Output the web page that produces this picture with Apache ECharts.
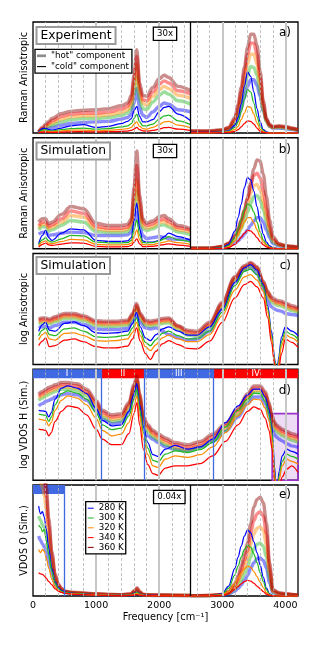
<!DOCTYPE html>
<html><head><meta charset="utf-8">
<script src="https://cdn.jsdelivr.net/npm/echarts@6/dist/echarts.min.js"></script>
<style>html,body{margin:0;padding:0;background:#fff;}#chart{width:320px;height:650px;}</style>
</head><body><div id="chart"></div>
<script>
// ================= DATA =================
const TEMPS = ['280 K', '300 K', '320 K', '340 K', '360 K'];
const X_TICKS = [0, 1000, 2000, 3000, 4000];
const GRID_DASHED = [200, 400, 600, 800, 1200, 1400, 1600, 1800, 2200, 2400, 2600, 2800, 3200, 3400, 3600, 3800];
const GRID_SOLID = [1000, 2000, 3000, 4000];
const REGION_EDGES = [0, 1080, 1765, 2855, 4200];
const REGION_NAMES = ['I', 'II', 'III', 'IV'];
const E_REGION = [0, 500];
const PURPLE_BOX_X = [3790, 4200];
const PURPLE_BOX_Y = [0, 60];

// frequency grids (cm^-1)
const F_LEFT = [90, 150, 200, 250, 300, 450, 600, 800, 1000, 1200, 1400, 1500, 1560, 1600, 1645, 1690, 1740, 1800, 1900, 2000, 2080, 2150, 2300, 2500];
const F_RIGHT = [2500, 2800, 3000, 3100, 3200, 3250, 3300, 3350, 3400, 3450, 3500, 3550, 3600, 3650, 3700, 3750, 3800, 3900, 4000, 4100, 4200];
const F_E_LEFT = [90, 120, 150, 180, 210, 250, 300, 350, 400, 450, 500, 600, 800, 1000, 1200, 1400, 1550, 1610, 1650, 1690, 1750, 1900, 2200, 2500];
const F_C = [90, 150, 200, 260, 350, 500, 650, 800, 1000, 1150, 1300, 1500, 1580, 1640, 1700, 1780, 1860, 1950, 2050, 2150, 2300, 2450, 2600, 2800, 3000, 3200, 3350, 3450, 3550, 3650, 3720, 3780, 3830, 3860, 3890, 3940, 4000, 4100, 4200];
const F_D = [90, 150, 200, 250, 290, 350, 450, 550, 700, 850, 1000, 1100, 1250, 1400, 1520, 1600, 1645, 1690, 1750, 1820, 1900, 1980, 2100, 2250, 2450, 2650, 2850, 3050, 3250, 3400, 3500, 3600, 3680, 3740, 3790, 3830, 3860, 3900, 3950, 4020, 4100, 4200];

// ---- panel a) Experiment, left part (x30) ----
const aH280 = [0.5, 2.5, 3.5, 4.2, 5, 7, 8.5, 9.5, 10, 10.5, 12.5, 14, 17, 27, 40, 23, 16, 14, 19, 24, 27, 26, 21, 19];
const aH300 = [0.6, 3, 4.5, 5.8, 7, 10, 12, 13, 13, 14, 16, 18, 22, 34, 51, 30, 22, 21, 28, 34, 37, 35, 29, 26];
const aH320 = [0.8, 3.5, 5.5, 7.2, 9, 12.5, 14.5, 15.5, 15.5, 16.5, 18.5, 21, 26, 41, 62, 36, 27, 25, 33, 39, 42, 40, 34, 31];
const aH340 = [1, 4, 6.5, 8.8, 11, 15, 17, 18, 18, 19, 21.5, 24, 30, 47, 69, 41, 30, 29, 37, 44, 47, 45, 38, 35];
const aH360 = [1, 5, 8, 10.5, 13, 17.5, 19.5, 20.5, 21, 22, 24.5, 27, 34, 52, 75, 45, 34, 33, 41, 49, 52, 50, 42, 38];
const aC280 = [0.5, 4, 4.5, 3, 2.5, 4.5, 6.5, 7.5, 5, 6, 8.5, 10.5, 13, 20, 24, 15, 10, 10, 12, 19, 23, 24, 17, 11];
const aC300 = [0.3, 2.5, 3, 2, 1.8, 3, 4, 4.5, 3.5, 4, 5.5, 6.5, 8.5, 13, 17, 10, 6.5, 6.5, 8, 12.5, 15.5, 16, 11, 7.5];
const aC320 = [0.2, 1.5, 1.8, 1.2, 1, 1.8, 2.5, 2.7, 2, 2.5, 3.2, 4, 5, 8, 10, 6, 4, 3.5, 5, 7.5, 10, 10.5, 7, 4.5];
const aC340 = [0.1, 0.7, 0.8, 0.6, 0.5, 0.8, 1.1, 1.2, 1, 1.2, 1.5, 1.8, 2.3, 3.5, 5, 3, 2, 1.7, 2.3, 3.5, 4.8, 5, 3.5, 2.2];
// ---- panel a) right part ----
const aRH280 = [1, 1, 1.5, 3, 7, 13, 22, 32, 42, 48, 48, 43, 33, 20, 11, 6, 4.5, 4.5, 4, 3, 2];
const aRH300 = [1, 1, 2, 3.5, 9, 17, 28, 40, 52, 60, 59, 52, 37, 20, 10, 6, 5, 5, 4.5, 3.5, 2.5];
const aRH320 = [1.5, 1.5, 2.5, 4, 11, 20, 33, 48, 62, 71, 71, 62, 44, 23, 11, 6.5, 5, 5.5, 5, 4, 2.5];
const aRH340 = [1.5, 1.5, 2.5, 4.5, 12, 23, 37, 54, 70, 81, 81, 71, 50, 26, 12, 7, 5.5, 6, 5.5, 4, 3];
const aRH360 = [2, 2, 3, 5, 14, 26, 41, 59, 77, 89, 89, 79, 56, 29, 13, 8, 6, 6.5, 6, 4.5, 3];
const aRC280 = [0.5, 0.5, 1, 2, 7, 14, 26, 42, 55, 51, 37, 22, 10, 3, 1, 0.3, 0, 0, 0, 0, 0];
const aRC300 = [0.3, 0.3, 0.7, 1.5, 5, 10, 19, 30, 39, 37, 27, 15, 6, 2, 0.5, 0, 0, 0, 0, 0, 0];
const aRC320 = [0.2, 0.2, 0.5, 1, 3, 6, 12, 18, 24, 23, 17, 9, 3.5, 1, 0.3, 0, 0, 0, 0, 0, 0];
const aRC340 = [0.1, 0.1, 0.3, 0.5, 1.5, 3, 5.5, 8.5, 11, 10.5, 8, 4.5, 1.5, 0.5, 0.1, 0, 0, 0, 0, 0, 0];

// ---- panel b) Simulation, left part (x30) ----
const bH280 = [13, 15, 15, 12, 12.5, 14, 15, 14.5, 12, 12, 12, 12.5, 15, 24, 33, 20, 12, 9, 10, 11, 10.5, 9, 8.5, 8];
const bH300 = [17, 20, 19.5, 16, 17, 21, 25.5, 24, 15.5, 14.4, 14.4, 15.5, 19, 34, 52, 30, 18, 16.5, 18, 21, 21.5, 19.5, 15, 12.6];
const bH320 = [19, 22, 22, 18, 19.5, 24, 30, 28.5, 18, 16.5, 16.5, 17.5, 21.5, 40, 62, 35, 21, 18.6, 20, 23.5, 24.5, 22, 17, 15];
const bH340 = [21, 24, 24, 20, 21.5, 27, 34, 32, 20, 18.5, 18.5, 19.5, 24, 47, 75, 42, 24, 21, 22.5, 26, 27, 24.5, 19, 16.5];
const bH360 = [24, 27, 27, 22.5, 24, 31, 38, 36, 23, 21, 21, 22, 27, 55, 88, 48, 27, 23, 25, 29, 30, 27, 21, 18];
const bC280 = [4.5, 12, 16.5, 10, 7.5, 14, 18, 17, 7.5, 6.6, 6.6, 7, 10, 25, 41, 18, 7, 6, 6, 7.5, 11, 14, 11, 7.5];
const bC300 = [3.5, 8, 10, 7, 6, 9, 12, 11.5, 6, 5.4, 5.4, 5.6, 7.5, 17, 26, 12, 5.5, 5.4, 5.6, 7, 9, 11, 8, 6];
const bC320 = [2.5, 6, 7, 5, 4.5, 6.5, 8.4, 8, 4, 3.6, 3.6, 3.8, 5, 11, 17, 8, 3.8, 3.6, 3.8, 5, 6, 7, 5.5, 3.9];
const bC340 = [1.5, 4, 5, 3.5, 3, 4.2, 5.4, 5, 2.2, 1.8, 1.8, 2, 3, 6, 9, 4.5, 2, 2, 2.2, 3, 3.8, 4.5, 3.2, 2.1];
// ---- panel b) right part ----
const bRH280 = [0.3, 0.3, 1, 2.5, 5, 7, 10, 13, 17, 21, 25, 28, 28, 24, 17, 10, 5, 2.5, 1.8, 1.3, 1];
const bRH300 = [0.4, 0.4, 1.5, 4, 8, 12, 18, 25, 33, 41, 47, 48, 44, 35, 24, 13, 6, 3, 2, 1.5, 1];
const bRH320 = [0.5, 0.5, 2, 4.5, 10, 15, 22, 30, 40, 50, 57, 58, 53, 42, 29, 16, 7.5, 3.5, 2.5, 1.8, 1.2];
const bRH340 = [0.5, 0.5, 2, 5, 11, 17, 25, 34, 45, 57, 66, 68, 64, 52, 36, 20, 9, 4, 2.5, 2, 1.5];
const bRH360 = [0.5, 0.5, 2, 5, 12, 18, 26, 35, 46, 59, 72, 80, 79, 67, 47, 26, 11, 4.5, 3, 2.2, 1.5];
const bRC280 = [0, 0, 0.8, 4, 16, 28, 40, 55, 64, 62, 52, 38, 24, 13, 6, 2.5, 1, 0, 0, 0, 0];
const bRC300 = [0, 0, 0.5, 2.5, 10, 18, 26, 35, 40.5, 39, 33, 24, 15, 8, 4, 1.5, 0.6, 0, 0, 0, 0];
const bRC320 = [0, 0, 0.4, 1.8, 7, 12, 18, 24, 28, 28, 23.5, 17, 11, 6, 3, 1.2, 0.5, 0, 0, 0, 0];
const bRC340 = [0, 0, 0.2, 1, 4, 7, 10.5, 14, 16.5, 16, 13.5, 10, 6.5, 3.5, 1.7, 0.7, 0.3, 0, 0, 0, 0];

// ---- panel c) log Anisotropic ----
const cH280 = [33, 34, 34, 33, 35, 38, 38, 36, 32, 31.5, 31.5, 32.5, 38, 45, 38, 33, 32, 33, 30, 27, 24, 22, 23, 30, 50, 74, 85, 87, 82, 68, 57, 52, 50, 49, 48.5, 48, 46, 45, 44];
const cH300 = [36.5, 37.5, 37.5, 36.5, 38.5, 41.5, 41.5, 39.5, 35, 34.5, 34.5, 35.5, 41.5, 50.5, 41.5, 35.5, 34.5, 35.5, 37, 37.5, 31.5, 26.5, 25.5, 33.5, 51.5, 76, 86, 89, 85, 71, 61.5, 56.5, 54.5, 53.5, 53, 52.5, 51, 48.5, 46.5];
const cH320 = [38, 39, 39, 38, 40, 43, 43, 41, 36.5, 36, 36, 37, 43, 52, 43, 37, 36, 37, 38.5, 39, 33, 28, 27, 35, 53, 77, 87, 90, 86, 72.5, 63, 58, 56, 55, 54.5, 54, 52.5, 50, 48];
const cH340 = [39.5, 40.5, 40.5, 39.5, 41.5, 44.5, 44.5, 42.5, 38, 37.5, 37.5, 38.5, 44.5, 53.5, 44.5, 38.5, 37.5, 38.5, 40, 40.5, 34.5, 29.5, 28.5, 36.5, 54.5, 78, 88, 91, 87, 74, 64.5, 59.5, 57.5, 56.5, 56, 55.5, 54, 51.5, 49.5];
const cH360 = [41, 42, 42, 41, 43, 46, 46, 44, 39.5, 39, 39, 40, 46, 55, 46, 40, 39, 40, 41.5, 42, 35, 31, 30, 38, 56, 79, 89, 92, 88, 75, 66, 61, 59, 58, 57.5, 57, 55.5, 53, 51];
const cC280 = [30, 36, 38, 31, 30, 37, 38.5, 35, 28.5, 28, 28.5, 30, 37, 47, 34, 24, 21.5, 27, 32, 34, 30, 26.5, 26.5, 34, 50, 74, 87, 90, 85, 72, 53, 30, 6, -15, 5, 25, 34, 30, 26];
const cC300 = [26, 31, 33, 27, 26, 32, 33, 30, 25, 24.5, 25, 26.5, 33, 42, 30, 20, 17, 22.5, 28, 30, 26, 23, 23, 30, 47, 71, 84, 86, 81, 70, 50, 27, 4, -15, 2, 21, 30, 27, 23];
const cC320 = [22, 27, 29, 23, 22, 28, 28.5, 26, 21.5, 21, 21.5, 23, 29, 38, 26, 16, 12.5, 18, 24, 26.5, 23, 20.5, 20.5, 27, 44, 67, 79, 81, 76, 66, 47, 24, 2, -15, 0, 17, 27, 24, 20];
const cC340 = [17, 21, 24, 16, 17, 22, 23, 20.5, 16, 15, 15, 16.5, 23, 33, 21, 10, 4.5, 12, 18.5, 21.5, 18, 14.5, 14, 21, 38, 60, 72, 75, 70, 60, 42, 20, 0, -15, -5, 10, 23, 20, 15.5];

// ---- panel d) log VDOS H ----
const dH280 = [67, 69, 71, 72, 73, 75, 77, 78, 77, 72, 63, 55, 51, 52, 61, 76, 84, 68, 46, 40, 37, 34, 30, 28, 27, 30, 35, 44, 57, 69, 75, 75, 69, 58, 46, 41, 39, 37, 35.5, 33, 31, 29.7];
const dH300 = [71.7, 74, 76, 77.5, 78.5, 80, 82, 82, 81, 76, 66, 57, 53, 54, 64, 80, 88, 72, 51, 44, 39, 36, 32, 28, 26, 29, 35.5, 45, 59, 72, 79, 79, 74, 64, 52, 46, 44, 42, 40, 38, 36, 34];
const dH320 = [73.7, 76, 78, 79.5, 80.5, 82, 84, 84, 83, 78, 68, 59, 55, 56, 66, 82, 90, 74, 53, 46, 41, 38, 34, 30, 28, 31, 37.5, 47, 61, 74, 81, 81, 76, 66, 54, 48, 46, 44, 42, 40, 38, 36];
const dH340 = [75.7, 78, 80, 81.5, 82.5, 84, 86, 86, 85, 80, 70, 61, 57, 58, 68, 84, 92, 76, 55, 48, 43, 40, 36, 32, 30, 33, 39.5, 49, 63, 76, 83, 83, 78, 68, 56, 50, 48, 46, 44, 42, 40, 38];
const dH360 = [77.7, 80, 82, 83.5, 84.5, 86, 88, 88, 87, 82, 72, 63, 59, 60, 70, 86, 94, 78, 57, 50, 45, 42, 38, 34, 32, 35, 41.5, 51, 65, 78, 85, 85, 80, 70, 58, 52, 50, 48, 46, 44, 42, 40];
const dC280 = [63, 62.5, 62, 57, 61, 73, 83, 85, 83, 78, 65, 54, 49, 50, 62, 78, 87, 68, 48, 34, 23, 21.5, 28, 31.5, 28, 30, 37, 52, 67, 77, 82, 82, 75, 64, 45, 12, -20, 8, 22, 28, 26, 23.5];
const dC300 = [59.5, 59, 58.5, 53, 57, 68, 78, 80.5, 78.5, 73, 61, 50, 45.5, 47, 58, 73, 82, 64, 43, 29, 18, 16.5, 23.5, 26.5, 25, 27.5, 34, 48, 63, 73, 78.5, 78, 71, 60, 42, 8, -20, 4, 17, 23.5, 21.5, 19];
const dC320 = [55, 54.5, 54, 49, 52, 63, 72, 76, 74, 68, 56, 45, 40, 41.5, 52, 67, 76, 58, 37, 23, 13, 11.5, 19, 22, 20.5, 23, 30, 43, 58, 68, 73, 72.5, 65, 54, 36, 4, -20, 0, 13, 19, 17, 14.5];
const dC340 = [46, 45.5, 45, 40, 43, 53, 62, 67, 65.5, 59, 46, 37, 32, 32, 42, 60, 70, 50, 28, 14, 6, 4.5, 11, 13, 13, 15, 22, 35, 50, 62, 66, 64, 56, 45, 28, -5, -20, -10, 3, 10, 13, 7];

// ---- panel e) VDOS O, left part (x0.04) ----
const eH280 = [54, 50, 47, 44, 40, 31, 20, 11, 6.5, 4.5, 3.2, 2.4, 1.8, 1.2, 0.9, 0.7, 1, 2.5, 3.5, 2, 0.7, 0.5, 0.4, 0.3];
const eH300 = [72, 68, 64, 62, 56, 42, 26, 14, 8, 5.5, 3.6, 2.7, 2, 1.4, 1, 0.8, 1.2, 3.3, 4.5, 2.5, 0.9, 0.6, 0.5, 0.4];
const eH320 = [105, 102, 98, 90, 78, 55, 32, 16, 9, 6, 4, 3, 2.3, 1.6, 1.2, 0.9, 1.5, 4, 5.5, 3, 1.1, 0.8, 0.6, 0.5];
const eH340 = [125, 120, 115, 105, 90, 63, 36, 18, 10, 6.5, 4.2, 3.2, 2.5, 1.8, 1.3, 1, 1.8, 4.5, 6.5, 3.5, 1.3, 0.9, 0.7, 0.5];
const eH360 = [140, 135, 130, 118, 100, 70, 40, 20, 11, 7, 4.5, 3.5, 2.8, 2, 1.5, 1.2, 2, 5, 7.5, 4, 1.5, 1, 0.8, 0.6];
const eC280 = [81, 74, 76, 71, 60, 43, 25, 13, 7.5, 5, 3.5, 2.6, 1.9, 1.2, 0.9, 0.7, 1, 2.5, 3.5, 2, 0.7, 0.5, 0.4, 0.3];
const eC300 = [64, 62, 58, 60, 50, 37, 22, 11.5, 6.5, 4.5, 3.2, 2.4, 1.7, 1.1, 0.8, 0.6, 0.9, 2.2, 3.2, 1.8, 0.6, 0.4, 0.3, 0.3];
const eC320 = [42, 39, 42, 40, 34, 25, 15, 8.5, 5, 3.5, 2.6, 2, 1.4, 0.9, 0.7, 0.5, 0.7, 1.6, 2.3, 1.3, 0.5, 0.3, 0.2, 0.2];
const eC340 = [21, 20, 19.5, 18, 16, 13, 10, 6.5, 4.5, 3.2, 2.5, 1.8, 1.2, 0.8, 0.5, 0.4, 0.5, 1, 1.5, 0.8, 0.3, 0.2, 0.1, 0.1];
// ---- panel e) right part ----
const eRH280 = [0.2, 0.3, 0.7, 1.6, 4.3, 6.8, 10, 14, 18.5, 25, 30, 33.5, 34.2, 32, 25, 12, 3, 1.5, 1, 0.7, 0.5];
const eRH300 = [0.2, 0.3, 0.9, 2.3, 6, 9.5, 14.5, 20, 26, 35, 42.5, 46.5, 47.5, 45, 35, 16, 3.5, 1.8, 1.2, 0.9, 0.6];
const eRH320 = [0.3, 0.4, 1.1, 3, 8, 12.5, 19, 26, 34, 46, 56, 61, 62.5, 59, 46, 21, 4.5, 2.2, 1.5, 1.1, 0.7];
const eRH340 = [0.3, 0.5, 1.3, 3.5, 9.5, 15, 23, 32, 41, 56, 68, 74, 76, 72, 56, 25, 5, 2.5, 1.8, 1.3, 0.8];
const eRH360 = [0.3, 0.5, 1.5, 4, 11, 18, 27, 37, 48, 65, 80, 87, 89, 84, 66, 30, 6, 3, 2, 1.5, 1];
const eRC280 = [0, 0.2, 2, 9, 25, 35, 45, 54, 59.5, 57, 49, 39, 28, 17, 7, 2, 0.5, 0, 0, 0, 0];
const eRC300 = [0, 0.2, 1.5, 7, 19, 27, 35, 42, 46, 44, 38, 30, 21, 13, 5.5, 1.5, 0.4, 0, 0, 0, 0];
const eRC320 = [0, 0.1, 1, 4, 11, 16, 20.5, 24.5, 27, 26, 22, 17.5, 12.5, 7.5, 3, 1, 0.3, 0, 0, 0, 0];
const eRC340 = [0, 0.1, 0.5, 2, 6, 8.5, 11, 13, 14, 13.5, 11.5, 9, 6.5, 4, 1.6, 0.5, 0.2, 0, 0, 0, 0];

// text
const Y_LABELS = ['Raman Anisotropic', 'Raman Anisotropic', 'log Anisotropic', 'log VDOS H (Sim.)', 'VDOS O (Sim.)'];
const PANEL_TAGS = ['a)', 'b)', 'c)', 'd)', 'e)'];
const BOX_TITLES = ['Experiment', 'Simulation', 'Simulation', null, null];
const SCALE_TAGS = ['30x', '30x', null, null, '0.04x'];
const HOT_LABEL = '"hot" component';
const COLD_LABEL = '"cold" component';
const X_NAME = 'Frequency [cm\u207B\u00B9]';

// ================= LAYOUT / STYLE =================
const FONT = '"DejaVu Sans", "Liberation Sans", sans-serif';
const COLORS = ['#0000ff', '#24b824', '#ff8c00', '#ff0000', '#8b0000'];
const X0 = 33, W = 265, FMAX = 4200, SPLIT = 2500, H = 111;
const TOPS = [22, 137.75, 253.5, 369.25, 485];
const WL = W * SPLIT / FMAX;

const grids = [], xAxes = [], yAxes = [], series = [], graphic = [];

function addGrid(left, width, top, xmin, xmax, border, xExtra) {
  const i = grids.length;
  grids.push({ left: left, top: top, width: width, height: H, show: !!border,
    borderColor: '#000', borderWidth: 1.3, backgroundColor: 'transparent' });
  xAxes.push(Object.assign({ type: 'value', gridIndex: i, min: xmin, max: xmax, show: false }, xExtra || {}));
  yAxes.push({ type: 'value', gridIndex: i, min: 0, max: 100, show: false });
  return i;
}
function curve(name, xs, ys, color, hot, gi) {
  return {
    type: 'line', name: name, xAxisIndex: gi, yAxisIndex: gi,
    data: xs.map(function (x, i) { return [x, ys[i]]; }),
    smooth: 0.35, smoothMonotone: 'x', symbol: 'none', showSymbol: false, silent: true,
    lineStyle: { color: color, width: hot ? 3.4 : 1.25, opacity: hot ? 0.45 : 1 },
    itemStyle: { color: color }, z: hot ? 2 : 3, clip: true
  };
}
function addCurves(gi, xs, hots, colds) {
  hots.forEach(function (ys, k) { series.push(curve(TEMPS[k] + ' (hot)', xs, ys, COLORS[k], true, gi)); });
  colds.forEach(function (ys, k) { series.push(curve(TEMPS[k], xs, ys, COLORS[k], false, gi)); });
}
function guides(gi, z, lines, areas) {
  const s = { type: 'line', data: [], xAxisIndex: gi, yAxisIndex: gi, silent: true, z: z, symbol: 'none' };
  if (lines) s.markLine = { symbol: ['none', 'none'], silent: true, animation: false, label: { show: false },
    emphasis: { disabled: true }, data: lines };
  if (areas) s.markArea = { silent: true, animation: false, emphasis: { disabled: true }, data: areas };
  series.push(s);
}
const gridLines = GRID_DASHED.map(function (x) {
  return { xAxis: x, lineStyle: { color: '#b3b3b3', width: 0.8, type: [3, 2] } };
}).concat(GRID_SOLID.map(function (x) {
  return { xAxis: x, lineStyle: { color: '#c6c6c6', width: 2, type: 'solid' } };
}));

const PANEL_DATA = [
  { left: [F_LEFT, [aH280, aH300, aH320, aH340, aH360], [aC280, aC300, aC320, aC340]],
    right: [F_RIGHT, [aRH280, aRH300, aRH320, aRH340, aRH360], [aRC280, aRC300, aRC320, aRC340]] },
  { left: [F_LEFT, [bH280, bH300, bH320, bH340, bH360], [bC280, bC300, bC320, bC340]],
    right: [F_RIGHT, [bRH280, bRH300, bRH320, bRH340, bRH360], [bRC280, bRC300, bRC320, bRC340]] },
  { full: [F_C, [cH280, cH300, cH320, cH340, cH360], [cC280, cC300, cC320, cC340]] },
  { full: [F_D, [dH280, dH300, dH320, dH340, dH360], [dC280, dC300, dC320, dC340]] },
  { left: [F_E_LEFT, [eH280, eH300, eH320, eH340, eH360], [eC280, eC300, eC320, eC340]],
    right: [F_RIGHT, [eRH280, eRH300, eRH320, eRH340, eRH360], [eRC280, eRC300, eRC320, eRC340]] }
];

const bottomAxis = {
  show: true, interval: 1000,
  axisLine: { show: false }, axisTick: { show: false }, splitLine: { show: false },
  axisLabel: { show: true, color: '#000', fontSize: 9.5, fontFamily: FONT, margin: 5, showMaxLabel: false,
    formatter: function (v) { return X_TICKS.indexOf(v) >= 0 ? String(v) : ''; } },
  name: X_NAME, nameLocation: 'middle', nameGap: 16,
  nameTextStyle: { color: '#000', fontSize: 9.8, fontFamily: FONT }
};

const BAND_LO = 91.9;
PANEL_DATA.forEach(function (pd, p) {
  const top = TOPS[p];
  const full = addGrid(X0, W, top, 0, FMAX, true, p === 4 ? bottomAxis : null);
  guides(full, 1, gridLines, null);
  if (pd.full) {
    addCurves(full, pd.full[0], pd.full[1], pd.full[2]);
  } else {
    const gl = addGrid(X0, WL, top, 0, SPLIT, false);
    const gr = addGrid(X0 + WL, W - WL, top, SPLIT, FMAX, false);
    addCurves(gl, pd.left[0], pd.left[1], pd.left[2]);
    addCurves(gr, pd.right[0], pd.right[1], pd.right[2]);
    guides(full, 6, [{ xAxis: SPLIT, lineStyle: { color: '#000', width: 1.3, type: 'solid' } }], null);
  }
  if (p === 3) {
    const bands = REGION_NAMES.map(function (nm, k) {
      return [{ name: nm, xAxis: REGION_EDGES[k], yAxis: BAND_LO,
        itemStyle: { color: k % 2 === 0 ? '#4169e1' : '#ff0000', opacity: 1 } },
        { xAxis: REGION_EDGES[k + 1], yAxis: 100 }];
    });
    const blines = REGION_EDGES.slice(1, -1).map(function (x) {
      return { xAxis: x, lineStyle: { color: '#4169e1', width: 1.3, type: 'solid' } };
    });
    series.push({ type: 'line', data: [], xAxisIndex: full, yAxisIndex: full, silent: true, z: 5, symbol: 'none',
      markArea: { silent: true, animation: false,
        label: { show: true, position: 'inside', color: '#fff', fontSize: 8.5, fontFamily: FONT },
        data: bands },
      markLine: { symbol: ['none', 'none'], silent: true, animation: false, label: { show: false }, data: blines } });
    guides(full, 1.5, null, [[{ xAxis: PURPLE_BOX_X[0], yAxis: PURPLE_BOX_Y[0],
      itemStyle: { color: 'rgba(153,50,204,0.17)', borderColor: '#9932cc', borderWidth: 1.6 } },
      { xAxis: PURPLE_BOX_X[1], yAxis: PURPLE_BOX_Y[1] }]]);
  }
  if (p === 4) {
    series.push({ type: 'line', data: [], xAxisIndex: full, yAxisIndex: full, silent: true, z: 5, symbol: 'none',
      markArea: { silent: true, animation: false, label: { show: false },
        data: [[{ xAxis: E_REGION[0], yAxis: BAND_LO, itemStyle: { color: '#4169e1', opacity: 1 } },
          { xAxis: E_REGION[1], yAxis: 100 }]] },
      markLine: { symbol: ['none', 'none'], silent: true, animation: false, label: { show: false },
        data: [{ xAxis: E_REGION[1], lineStyle: { color: '#4169e1', width: 1.3, type: 'solid' } }] } });
  }

  // texts
  graphic.push({ type: 'text', x: 24, y: top + H / 2, rotation: Math.PI / 2, z: 100,
    style: { text: Y_LABELS[p], font: '9.7px ' + FONT, fill: '#000', align: 'center', verticalAlign: 'middle',
      textAlign: 'center', textVerticalAlign: 'middle' } });
  const tagY = [32.8, 150, 265.5, 390.5, 495][p];
  graphic.push({ type: 'text', x: 291, y: tagY, z: 100,
    style: { text: PANEL_TAGS[p], font: '12px ' + FONT, fill: '#000', align: 'right', verticalAlign: 'middle',
      textAlign: 'right', textVerticalAlign: 'middle' } });
  if (BOX_TITLES[p]) {
    const by = [35.5, 151, 265.5][p];
    graphic.push({ type: 'text', x: 37.5, y: by, z: 100,
      style: { text: BOX_TITLES[p], font: '12.3px ' + FONT, fill: '#000', align: 'left', verticalAlign: 'middle',
        textAlign: 'left', textVerticalAlign: 'middle',
        backgroundColor: '#fff', borderColor: '#9a9a9a', borderWidth: 2, padding: [2, 3, 1, 3] } });
  }
  if (SCALE_TAGS[p]) {
    const sx = p === 4 ? 169.3 : 165, sy = [33.8, 151, 0, 0, 497][p];
    graphic.push({ type: 'text', x: sx, y: sy, z: 100,
      style: { text: SCALE_TAGS[p], font: '8.6px ' + FONT, fill: '#000', align: 'center', verticalAlign: 'middle',
        textAlign: 'center', textVerticalAlign: 'middle',
        backgroundColor: '#fff', borderColor: '#000', borderWidth: 1.3, padding: [2, 3, 1, 3] } });
  }
});

// legend-only series
series.push({ type: 'line', name: HOT_LABEL, data: [], xAxisIndex: 0, yAxisIndex: 0, symbol: 'none',
  lineStyle: { color: '#8c8c8c', width: 3 }, itemStyle: { color: '#8c8c8c' } });
series.push({ type: 'line', name: COLD_LABEL, data: [], xAxisIndex: 0, yAxisIndex: 0, symbol: 'none',
  lineStyle: { color: '#000', width: 1.3 }, itemStyle: { color: '#000' } });
series.push({ type: 'line', name: TEMPS[4], data: [], xAxisIndex: 0, yAxisIndex: 0, symbol: 'none',
  lineStyle: { color: COLORS[4], width: 1.3 }, itemStyle: { color: COLORS[4] } });

const THICK_ICON = 'path://M0,0H20V6H0Z';
const THIN_ICON = 'path://M0,0H20V2.4H0Z';
const legendBase = {
  orient: 'vertical', selectedMode: false, backgroundColor: '#fff', borderColor: '#000', borderWidth: 1.3,
  borderRadius: 0, itemGap: 1.8, z: 20, symbolKeepAspect: true,
  textStyle: { color: '#000', fontSize: 8.7, fontFamily: FONT }
};
const option = {
  animation: false,
  backgroundColor: '#fff',
  grid: grids, xAxis: xAxes, yAxis: yAxes, series: series, graphic: graphic,
  legend: [
    Object.assign({}, legendBase, {
      data: [{ name: HOT_LABEL, icon: THICK_ICON }, { name: COLD_LABEL, icon: THIN_ICON }],
      left: 35, top: 49.3, itemWidth: 9, itemHeight: 8, padding: [2, 3, 2, 2] }),
    Object.assign({}, legendBase, {
      data: TEMPS.map(function (t) { return { name: t, icon: 'path://M0,0H20V3.4H0Z' }; }),
      left: 85.7, top: 501.7, itemWidth: 6, itemHeight: 8, itemGap: 0.8, padding: [2, 2, 2, 2] })
  ]
};
const chart = echarts.init(document.getElementById('chart'), null, { renderer: 'canvas' });
chart.setOption(option);
</script>
</body></html>
